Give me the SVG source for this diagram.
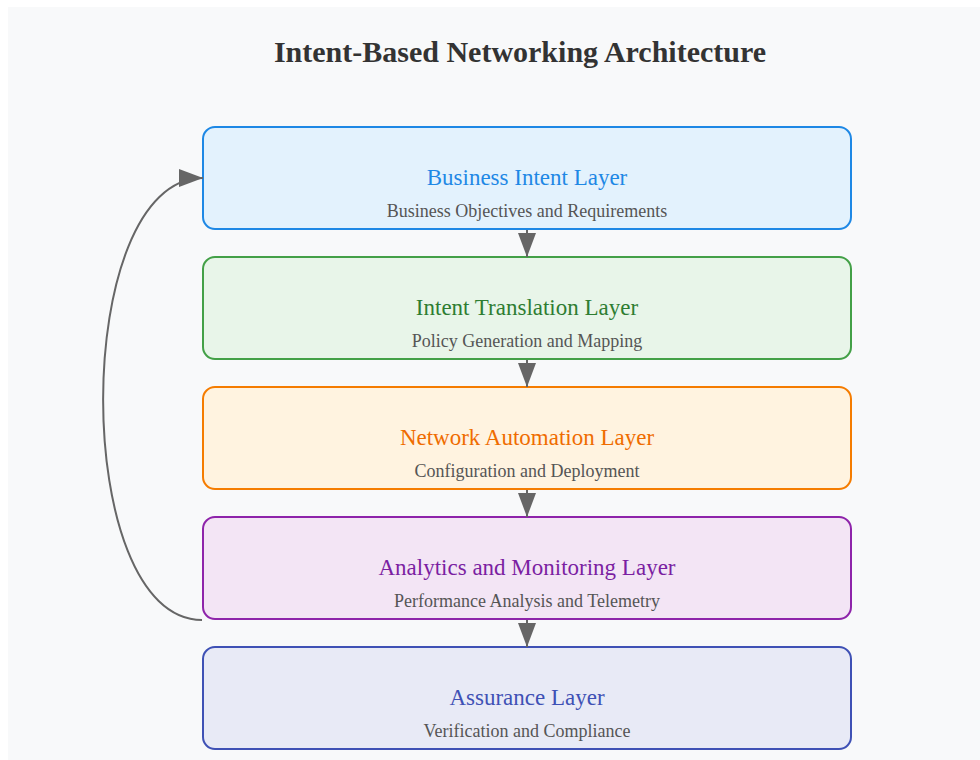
<svg xmlns="http://www.w3.org/2000/svg" width="980" height="760" viewBox="0 0 980 760">
  <style>
    .layer rect { stroke-width: 2; }
    .name { font-family: "Liberation Serif", "Times New Roman", serif; font-size: 23px; text-anchor: middle; }
    .desc { font-family: "Liberation Serif", "Times New Roman", serif; font-size: 18px; fill: #555; text-anchor: middle; }
    .title { font-family: "Liberation Serif", "Times New Roman", serif; font-size: 30px; font-weight: bold; fill: #333; text-anchor: middle; }
    .conn { fill: none; stroke: #666; stroke-width: 2; }
  </style>
  <defs>
    <marker id="arrow" markerUnits="userSpaceOnUse" markerWidth="24" markerHeight="18" refX="24" refY="9" orient="auto">
      <path d="M0,0 L24,9 L0,18 z" fill="#666"/>
    </marker>
  </defs>

  <rect x="0" y="0" width="980" height="760" fill="#ffffff"/>
  <rect x="8" y="7" width="972" height="753" fill="#f8f9fa"/>

  <text class="title" x="520" y="62">Intent-Based Networking Architecture</text>

  <g id="business-intent" class="layer">
    <rect x="203" y="127" width="648" height="102" rx="12" fill="#e3f2fd" stroke="#1e88e5"/>
    <text class="name" x="527" y="185" fill="#1e88e5">Business Intent Layer</text>
    <text class="desc" x="527" y="217">Business Objectives and Requirements</text>
  </g>

  <g id="intent-translation" class="layer">
    <rect x="203" y="257" width="648" height="102" rx="12" fill="#e8f5e9" stroke="#43a047"/>
    <text class="name" x="527" y="315" fill="#2e7d32">Intent Translation Layer</text>
    <text class="desc" x="527" y="347">Policy Generation and Mapping</text>
  </g>

  <g id="network-automation" class="layer">
    <rect x="203" y="387" width="648" height="102" rx="12" fill="#fff3e0" stroke="#f57c00"/>
    <text class="name" x="527" y="445" fill="#ef6c00">Network Automation Layer</text>
    <text class="desc" x="527" y="477">Configuration and Deployment</text>
  </g>

  <g id="analytics-monitoring" class="layer">
    <rect x="203" y="517" width="648" height="102" rx="12" fill="#f3e5f5" stroke="#8e24aa"/>
    <text class="name" x="527" y="575" fill="#7b1fa2">Analytics and Monitoring Layer</text>
    <text class="desc" x="527" y="607">Performance Analysis and Telemetry</text>
  </g>

  <g id="assurance" class="layer">
    <rect x="203" y="647" width="648" height="102" rx="12" fill="#e8eaf6" stroke="#3f51b5"/>
    <text class="name" x="527" y="705" fill="#3f51b5">Assurance Layer</text>
    <text class="desc" x="527" y="737">Verification and Compliance</text>
  </g>

  <g id="connectors">
    <line class="conn" x1="527" y1="230" x2="527" y2="257" marker-end="url(#arrow)"/>
    <line class="conn" x1="527" y1="360" x2="527" y2="387" marker-end="url(#arrow)"/>
    <line class="conn" x1="527" y1="490" x2="527" y2="517" marker-end="url(#arrow)"/>
    <line class="conn" x1="527" y1="620" x2="527" y2="647" marker-end="url(#arrow)"/>
    <path class="conn" d="M202,620 C70,620 70,178 203,178" marker-end="url(#arrow)"/>
  </g>
</svg>
